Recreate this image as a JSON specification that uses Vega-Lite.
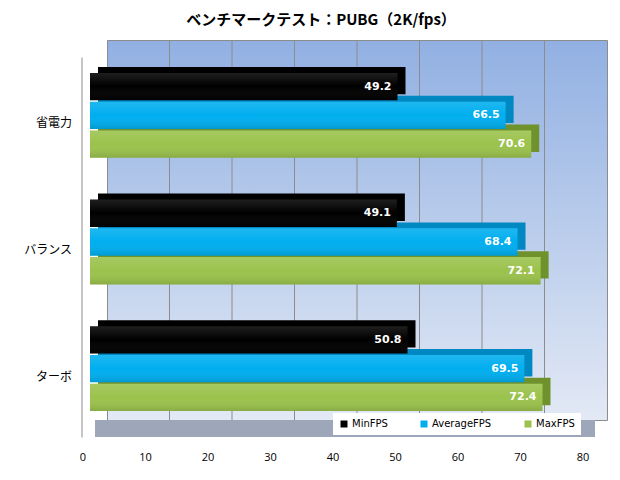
{
  "$schema": "https://vega.github.io/schema/vega-lite/v6.json",
  "width": 500,
  "height": 380,
  "autosize": {"type": "none"},
  "padding": {"left": 107, "top": 40, "right": 13, "bottom": 60},
  "background": "white",
  "title": {"text": "ベンチマークテスト：PUBG（2K/fps）", "font": "Noto Sans CJK JP", "fontSize": 15, "fontWeight": "bold", "anchor": "middle", "frame": "group", "dx": -36, "offset": 12, "color": "#000000"},
  "config": {"view": {"fill": {"gradient": "linear", "x1": 0, "y1": 0, "x2": 0, "y2": 1, "stops": [{"offset": 0, "color": "#91b0e2"}, {"offset": 1, "color": "#e3e9f5"}]}, "stroke": "#8c8c8c"}},
  "datasets": {
    "fps": [
      {"mode": "省電力", "series": "MinFPS", "value": 49.2},
      {"mode": "省電力", "series": "AverageFPS", "value": 66.5},
      {"mode": "省電力", "series": "MaxFPS", "value": 70.6},
      {"mode": "バランス", "series": "MinFPS", "value": 49.1},
      {"mode": "バランス", "series": "AverageFPS", "value": 68.4},
      {"mode": "バランス", "series": "MaxFPS", "value": 72.1},
      {"mode": "ターボ", "series": "MinFPS", "value": 50.8},
      {"mode": "ターボ", "series": "AverageFPS", "value": 69.5},
      {"mode": "ターボ", "series": "MaxFPS", "value": 72.4}
    ],
    "grid": [{"v": 10}, {"v": 20}, {"v": 30}, {"v": 40}, {"v": 50}, {"v": 60}, {"v": 70}]
  },
  "layer": [
    {
      "data": {"name": "grid"},
      "mark": {"type": "rule", "color": "#8c8c8c", "strokeWidth": 1},
      "encoding": {
        "x": {"field": "v", "type": "quantitative", "scale": {"domain": [0, 80], "nice": false}}
      }
    },
    {
      "data": {"name": "fps"},
      "mark": {"type": "bar", "xOffset": -9, "x2Offset": -9},
      "encoding": {
        "y": {"field": "mode", "type": "nominal", "sort": ["省電力", "バランス", "ターボ"], "scale": {"range": [12, 392], "paddingInner": 0.33, "paddingOuter": 0.165}},
        "yOffset": {"field": "series", "type": "nominal", "sort": ["MinFPS", "AverageFPS", "MaxFPS"], "scale": {"range": [-6, 79], "paddingInner": 0.05, "paddingOuter": 0}},
        "x": {"field": "value", "type": "quantitative", "scale": {"domain": [0, 80], "nice": false}},
        "color": {"field": "series", "type": "nominal", "scale": {"domain": ["MinFPS", "AverageFPS", "MaxFPS"], "range": ["#000000", "#0088c2", "#6f922c"]}, "legend": null}
      }
    },
    {
      "data": {"name": "fps"},
      "mark": {"type": "bar", "xOffset": -17, "x2Offset": -17},
      "encoding": {
        "y": {"field": "mode", "type": "nominal", "sort": ["省電力", "バランス", "ターボ"],
          "axis": {"title": null, "ticks": false, "domainColor": "#8c8c8c", "translate": 5.5, "offset": 30.5, "labelOffset": 3, "labelPadding": 10, "labelFont": "Noto Sans CJK JP", "labelFontSize": 12, "labelColor": "#000000"}},
        "yOffset": {"field": "series", "type": "nominal", "sort": ["MinFPS", "AverageFPS", "MaxFPS"], "scale": {"paddingInner": 0.05, "paddingOuter": 0}},
        "x": {"field": "value", "type": "quantitative", "scale": {"domain": [0, 80], "nice": false},
          "axis": {"title": null, "grid": false, "ticks": false, "domainWidth": 17, "domainColor": "#9ea6b9", "translate": -12, "offset": 20.5, "labelOffset": -12, "labelPadding": 23, "values": [0, 10, 20, 30, 40, 50, 60, 70, 80], "labelFont": "Open Sans", "labelFontSize": 11, "labelColor": "#000000", "labelFlush": false, "labelOverlap": false}},
        "color": {"field": "series", "type": "nominal", "scale": {"domain": ["MinFPS", "AverageFPS", "MaxFPS"], "range": ["#000000", "#00aeef", "#9bc24c"]},
          "legend": {"title": null, "orient": "none", "legendX": 226, "legendY": 373, "direction": "horizontal", "fillColor": "white", "padding": 6, "symbolType": "square", "symbolSize": 49, "symbolStrokeWidth": 0, "labelFont": "DejaVu Sans", "labelFontSize": 10, "labelColor": "#000000", "columnPadding": 31, "labelOffset": 3}}
      }
    },
    {
      "data": {"name": "fps"},
      "mark": {"type": "bar", "xOffset": -17, "x2Offset": -17, "fill": {"gradient": "linear", "x1": 0, "y1": 0, "x2": 0, "y2": 1, "stops": [{"offset": 0, "color": "rgba(255,255,255,0.12)"}, {"offset": 0.5, "color": "rgba(255,255,255,0)"}, {"offset": 1, "color": "rgba(0,0,0,0.12)"}]}},
      "encoding": {
        "y": {"field": "mode", "type": "nominal", "sort": ["省電力", "バランス", "ターボ"]},
        "yOffset": {"field": "series", "type": "nominal", "sort": ["MinFPS", "AverageFPS", "MaxFPS"], "scale": {"paddingInner": 0.05, "paddingOuter": 0}},
        "x": {"field": "value", "type": "quantitative", "scale": {"domain": [0, 80], "nice": false}}
      }
    },
    {
      "data": {"name": "fps"},
      "mark": {"type": "text", "align": "right", "baseline": "middle", "xOffset": -23, "color": "white", "font": "DejaVu Sans", "fontWeight": "bold", "fontSize": 11},
      "encoding": {
        "y": {"field": "mode", "type": "nominal", "sort": ["省電力", "バランス", "ターボ"]},
        "yOffset": {"field": "series", "type": "nominal", "sort": ["MinFPS", "AverageFPS", "MaxFPS"], "bandPosition": 0.5, "scale": {"type": "band", "paddingInner": 0.05, "paddingOuter": 0}},
        "x": {"field": "value", "type": "quantitative", "scale": {"domain": [0, 80], "nice": false}},
        "text": {"field": "value", "type": "quantitative", "format": ".1f"}
      }
    }
  ],
  "resolve": {"scale": {"yOffset": "independent", "color": "independent"}}
}
